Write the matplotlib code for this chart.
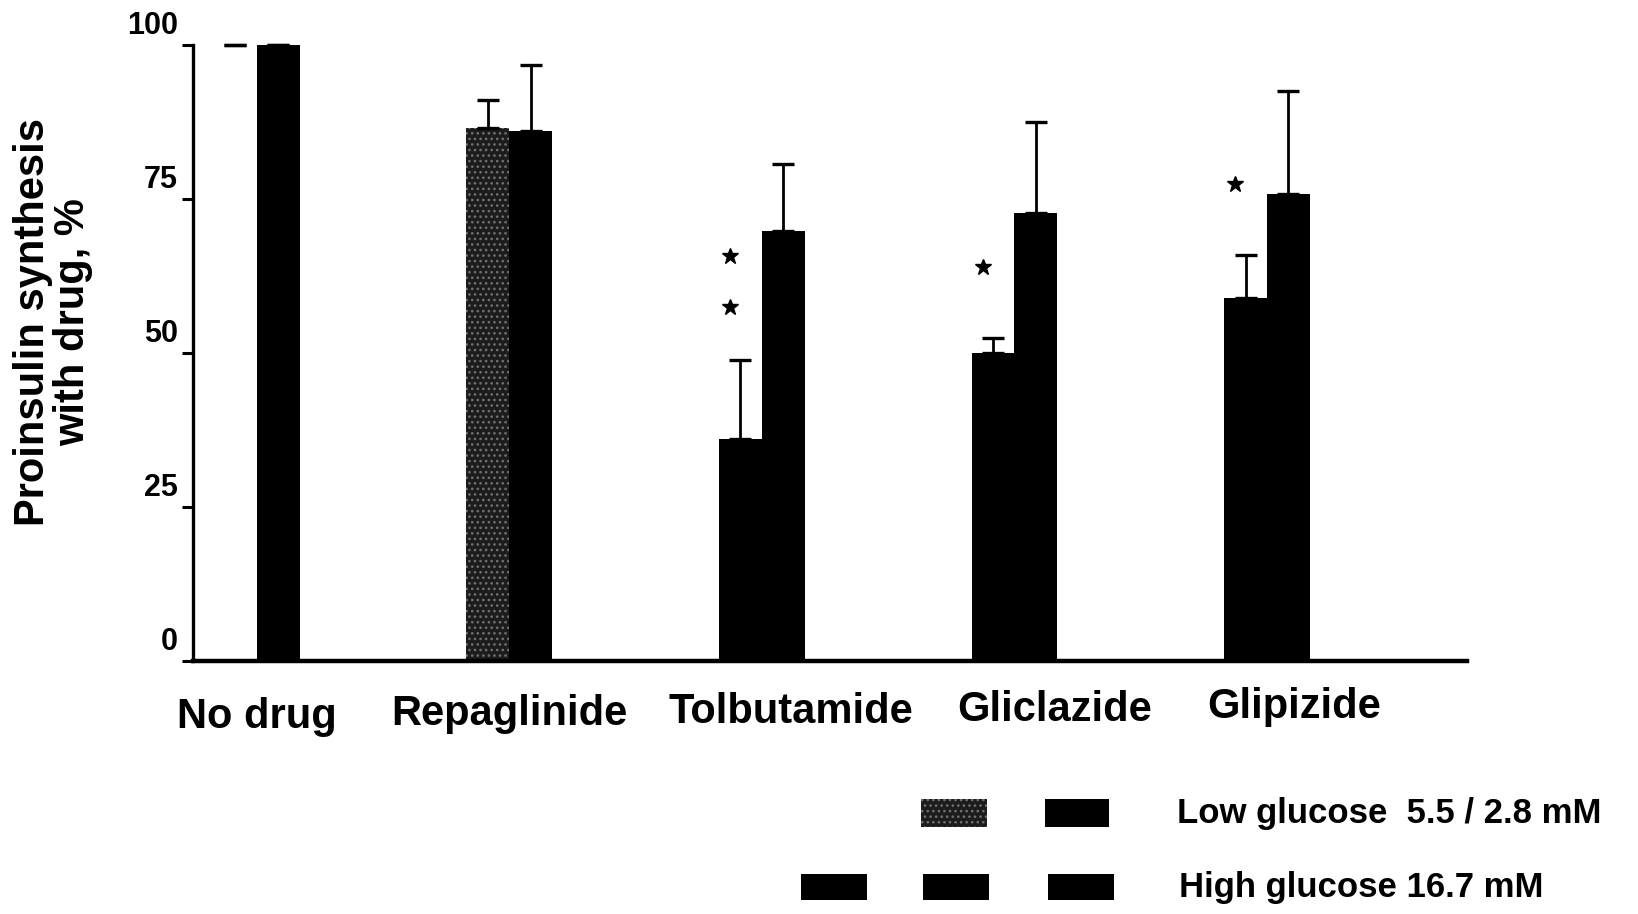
import matplotlib
matplotlib.use("Agg")
import matplotlib.pyplot as plt
from matplotlib.patches import Rectangle
from matplotlib.transforms import ScaledTranslation
import numpy as np

plt.rcParams['font.family'] = ['Liberation Sans', 'DejaVu Sans']
plt.rcParams['font.weight'] = 'bold'
plt.rcParams['hatch.linewidth'] = 1.1

# ---- data -------------------------------------------------------------
drugs = ["No drug", "Repaglinide", "Tolbutamide", "Gliclazide", "Glipizide"]
low_glucose = [100, 86.6, 36.0, 50.0, 58.9]
low_glucose_err = [0, 4.4, 12.9, 2.4, 7.0]
high_glucose = [100, 86.1, 69.8, 72.7, 75.8]
high_glucose_err = [0, 10.7, 10.9, 14.8, 16.7]
# significance marks: drug index and height of each asterisk
star_drug = [2, 2, 3, 4]
star_height = [65.7, 57.5, 64.0, 77.4]
y_ticks = [0, 25, 50, 75, 100]

# ---- layout ---------------------------------------------------------------
W, H = 1638, 914
fig = plt.figure(figsize=(W / 100, H / 100), dpi=100)


def frac_box(x0, y0, x1, y1):
    return [x0 / W, 1 - y1 / H, (x1 - x0) / W, (y1 - y0) / H]


ax = fig.add_axes(frac_box(193, 45, 1467, 661))

x = np.arange(len(drugs))
width = 0.17
low_x = x - width / 2
high_x = x + width / 2

stipple_face = '#1c1c1c'
stipple_dots = '#707070'

low_colors = ['white', stipple_face, 'black', 'black', 'black']
low_bars = ax.bar(low_x, low_glucose, width, color=low_colors, linewidth=0, zorder=2)
low_bars[1].set_hatch('...')
low_bars[1].set_edgecolor(stipple_dots)
low_bars[1].set_linewidth(0)
ax.bar(high_x, high_glucose, width, color='black', linewidth=0, zorder=2)

zeros = [0] * len(drugs)
err_style = dict(fmt='none', ecolor='black', elinewidth=2.0, capsize=8,
                 capthick=2.4, zorder=3, clip_on=False)
ax.errorbar(low_x, low_glucose, yerr=[zeros, low_glucose_err], **err_style)
ax.errorbar(high_x, high_glucose, yerr=[zeros, high_glucose_err], **err_style)

ax.plot(np.array(star_drug) - 0.125, star_height, ls='none', marker='*',
        color='black', ms=12, zorder=4)

ax.set_xlim(-0.253, 4.792)
ax.set_ylim(0, 100)

for side in ('top', 'right'):
    ax.spines[side].set_visible(False)
ax.spines['left'].set_linewidth(2.4)
ax.spines['bottom'].set_linewidth(3.2)

ax.set_yticks(y_ticks)
ax.set_yticklabels([str(t) for t in y_ticks], fontsize=22, fontweight='bold')
ax.tick_params(axis='y', length=8, width=2.2, pad=3, direction='out')
lift = ScaledTranslation(0, 0.22, fig.dpi_scale_trans)
for lab in ax.get_yticklabels():
    lab.set_transform(lab.get_transform() + lift)

label_x = [0, 1.0, 2.115, 3.16, 4.107]
label_drop = [0.07, 0.04, 0.02, 0.0, -0.03]
ax.set_xticks(label_x)
ax.set_xticklabels(drugs, fontsize=30, fontweight='bold')
ax.tick_params(axis='x', length=0, pad=21)
for lab, dy in zip(ax.get_xticklabels(), label_drop):
    lab.set_transform(lab.get_transform() +
                      ScaledTranslation(0, -dy, fig.dpi_scale_trans))

fig.text(53 / W, 1 - 322 / H, "Proinsulin synthesis\nwith drug, %",
         rotation=90, ha='center', va='center', fontsize=30,
         fontweight='bold', multialignment='center', linespacing=1.0)

# ---- key ------------------------------------------------------------------
def key_box(x0, y0, x1, y1, **kw):
    r = Rectangle((x0 / W, 1 - y1 / H), (x1 - x0) / W, (y1 - y0) / H,
                  transform=fig.transFigure, linewidth=0, **kw)
    fig.add_artist(r)
    return r


grey = key_box(921, 799, 987, 827, facecolor=stipple_face, hatch='...')
grey.set_edgecolor(stipple_dots)
grey.set_linewidth(0)
key_box(1045, 799, 1109, 827, facecolor='black')
for x0 in (801, 923, 1048):
    key_box(x0, 874, x0 + 66, 900, facecolor='black')

fig.text(1177 / W, 1 - 813 / H, "Low glucose  5.5 / 2.8 mM", ha='left',
         va='center', fontsize=25, fontweight='bold')
fig.text(1179 / W, 1 - 887 / H, "High glucose 16.7 mM", ha='left',
         va='center', fontsize=25, fontweight='bold')

fig.savefig('out.png', dpi=100)
